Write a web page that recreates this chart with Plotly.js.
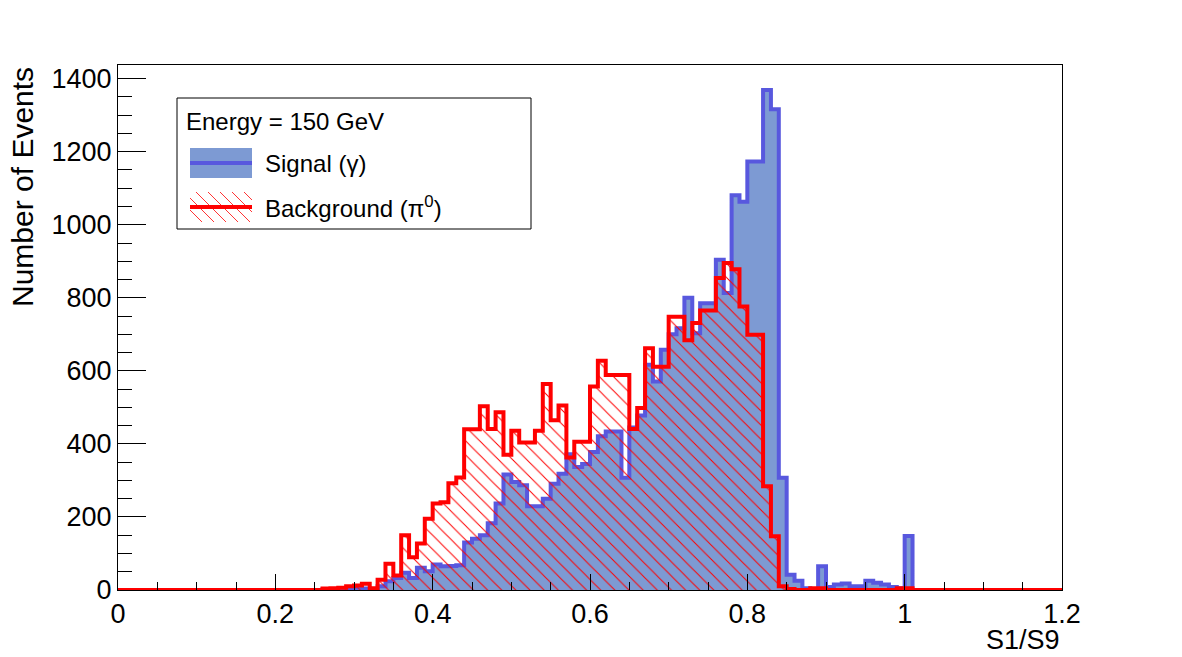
<!DOCTYPE html>
<html>
<head>
<meta charset="utf-8">
<script src="https://cdn.plot.ly/plotly-3.0.1.min.js"></script>
<style>
  html, body { margin: 0; padding: 0; background: #ffffff; }
  #chart { width: 1182px; height: 657px; }
</style>
</head>
<body>
<div id="chart"></div>
<script>
// ---------------- data (120 bins of width 0.01 from 0 to 1.2) ----------------
const binLow = 0.0;
const binWidth = 0.01;

const signalCounts = [
  0,0,0,0,0,0,0,0,0,0,            // 0.00-0.09
  0,0,0,0,0,0,0,0,0,0,            // 0.10-0.19
  0,0,0,0,0,0,2,3,3,5,            // 0.20-0.29
  6,4,3,10,24,33,47,33,61,51,     // 0.30-0.39
  70,65,66,68,130,140,150,183,237,316,   // 0.40-0.49
  296,287,229,229,250,291,318,372,337,345, // 0.50-0.59
  378,421,434,434,307,445,478,617,571,658, // 0.60-0.69
  700,717,800,703,785,785,904,813,1081,1063, // 0.70-0.79
  1173,1173,1369,1316,307,42,25,5,3,65,  // 0.80-0.89
  8,15,18,10,10,25,20,15,8,5,     // 0.90-0.99
  148,0,0,0,0,0,0,0,0,0,          // 1.00-1.09
  0,0,0,0,0,0,0,0,0,0             // 1.10-1.19
];

const backgroundCounts = [
  0,0,0,0,0,0,0,0,0,0,
  0,0,0,0,0,0,0,0,0,0,
  0,0,0,0,0,0,4,5,6,10,
  12,17,5,28,72,40,150,90,127,195,
  237,240,292,308,440,440,503,441,487,370,
  436,404,404,436,564,465,505,363,406,406,
  557,628,589,589,589,441,498,662,611,611,
  748,748,684,731,765,765,854,895,878,776,
  699,699,284,147,10,3,0,0,5,5,
  0,0,0,0,0,0,0,0,0,5,
  5,0,0,0,0,0,0,0,0,0,
  0,0,0,0,0,0,0,0,0,0
];

const xTickValues = [0, 0.2, 0.4, 0.6, 0.8, 1.0, 1.2];
const yTickValues = [0, 200, 400, 600, 800, 1000, 1200, 1400];

const xTitle = 'S1/S9';
const yTitle = 'Number of Events';
const legendHeader = 'Energy = 150 GeV';
const signalLabel = 'Signal (γ)';
const backgroundLabel = 'Background (π<sup>0</sup>)';

// ---------------- styling ----------------
const W = 1182, H = 657;
const M = { l: 118, r: 120, t: 65, b: 67 };
const plotW = W - M.l - M.r;
const plotH = H - M.t - M.b;
const FONT = 'Liberation Sans, Arial, Helvetica, sans-serif';

const signalLine = '#5858de';
const signalFill = '#7d9ad3';
const bgLine = '#ff0000';

function stepXY(counts) {
  const x = [], y = [];
  for (let i = 0; i < counts.length; i++) {
    x.push(binLow + i * binWidth);
    y.push(counts[i]);
  }
  x.push(binLow + counts.length * binWidth);
  y.push(counts[counts.length - 1]);
  return { x, y };
}

const sig = stepXY(signalCounts);
const bkg = stepXY(backgroundCounts);
const yMax = 1.05 * Math.max(...signalCounts, ...backgroundCounts);

const traces = [
  {
    type: 'scatter', mode: 'lines', x: sig.x, y: sig.y,
    line: { shape: 'hv', color: signalLine, width: 4 },
    fill: 'tozeroy', fillcolor: signalFill,
    name: 'signal', hoverinfo: 'skip'
  },
  {
    type: 'scatter', mode: 'lines', x: bkg.x, y: bkg.y,
    line: { shape: 'hv', color: bgLine, width: 4 },
    fill: 'tozeroy', fillcolor: 'rgba(255,0,0,0)',
    fillpattern: { shape: '\\', fgcolor: '#ff0000', bgcolor: 'rgba(0,0,0,0)', size: 10, solidity: 0.1 },
    name: 'background', hoverinfo: 'skip'
  }
];

// pixel -> paper helpers
const px = v => (v - M.l) / plotW;
const py = v => (M.t + plotH - v) / plotH;

// legend geometry (pixels)
const LB = { x0: 177, x1: 531, y0: 98, y1: 229 };
const SW = { x0: 190, x1: 252 };
const sigRow = { y0: 148, y1: 178 };
const bkgRow = { y0: 192, y1: 222 };

const shapes = [
  { type: 'rect', xref: 'paper', yref: 'paper', x0: px(LB.x0), x1: px(LB.x1), y0: py(LB.y1), y1: py(LB.y0),
    line: { color: 'black', width: 1 }, fillcolor: 'white', layer: 'above' },
  { type: 'rect', xref: 'paper', yref: 'paper', x0: px(SW.x0), x1: px(SW.x1), y0: py(sigRow.y1), y1: py(sigRow.y0),
    line: { width: 0 }, fillcolor: signalFill, layer: 'above' },
  { type: 'line', xref: 'paper', yref: 'paper', x0: px(SW.x0), x1: px(SW.x1),
    y0: py((sigRow.y0 + sigRow.y1) / 2), y1: py((sigRow.y0 + sigRow.y1) / 2),
    line: { color: signalLine, width: 4 }, layer: 'above' }
];
// hatch lines in the background swatch ("\" direction)
{
  const h = bkgRow.y1 - bkgRow.y0;
  const step = 12;
  for (let c = SW.x0 - h; c < SW.x1; c += step) {
    const xs = Math.max(c, SW.x0), xe = Math.min(c + h, SW.x1);
    if (xe <= xs) continue;
    shapes.push({ type: 'line', xref: 'paper', yref: 'paper',
      x0: px(xs), y0: py(bkgRow.y0 + (xs - c)), x1: px(xe), y1: py(bkgRow.y0 + (xe - c)),
      line: { color: '#ff0000', width: 0.8 }, layer: 'above' });
  }
}
shapes.push({ type: 'line', xref: 'paper', yref: 'paper', x0: px(SW.x0), x1: px(SW.x1),
  y0: py((bkgRow.y0 + bkgRow.y1) / 2), y1: py((bkgRow.y0 + bkgRow.y1) / 2),
  line: { color: bgLine, width: 4 }, layer: 'above' });

const annotations = [
  { text: yTitle, xref: 'paper', yref: 'paper', x: px(22), y: 1, xanchor: 'center', yanchor: 'top',
    textangle: -90, showarrow: false, font: { family: FONT, size: 30, color: 'black' } },
  { text: xTitle, xref: 'paper', yref: 'paper', x: 1, y: py(657), xanchor: 'right', yanchor: 'bottom',
    showarrow: false, font: { family: FONT, size: 27, color: 'black' } },
  { text: legendHeader, xref: 'paper', yref: 'paper', x: px(184), y: py(121), xanchor: 'left', yanchor: 'middle',
    showarrow: false, font: { family: FONT, size: 24, color: 'black' } },
  { text: signalLabel, xref: 'paper', yref: 'paper', x: px(263), y: py(163), xanchor: 'left', yanchor: 'middle',
    showarrow: false, font: { family: FONT, size: 24, color: 'black' } },
  { text: backgroundLabel, xref: 'paper', yref: 'paper', x: px(263), y: py(207), xanchor: 'left', yanchor: 'middle',
    showarrow: false, font: { family: FONT, size: 24, color: 'black' } }
];

const axisCommon = {
  showgrid: false, zeroline: false, showline: true, linecolor: 'black', linewidth: 1, mirror: true,
  ticks: 'inside', tickcolor: 'black', tickwidth: 1, layer: 'above traces'
};

const layout = {
  width: W, height: H,
  margin: { l: M.l, r: M.r, t: M.t, b: M.b, pad: 0 },
  paper_bgcolor: 'white', plot_bgcolor: 'white',
  showlegend: false,
  font: { family: FONT, color: 'black' },
  xaxis: Object.assign({}, axisCommon, {
    range: [0, 1.2], tickmode: 'array', tickvals: xTickValues, ticklen: 16,
    tickfont: { family: FONT, size: 27, color: 'black' },
    minor: { dtick: 0.05, tick0: 0, ticks: 'inside', ticklen: 8, tickcolor: 'black', tickwidth: 1, showgrid: false }
  }),
  yaxis: Object.assign({}, axisCommon, {
    range: [0, yMax], tickmode: 'array', tickvals: yTickValues, ticklen: 28,
    tickfont: { family: FONT, size: 27, color: 'black' },
    minor: { dtick: 50, tick0: 0, ticks: 'inside', ticklen: 14, tickcolor: 'black', tickwidth: 1, showgrid: false }
  }),
  shapes: shapes,
  annotations: annotations
};

Plotly.newPlot('chart', traces, layout, { staticPlot: true, displayModeBar: false });
</script>
</body>
</html>
